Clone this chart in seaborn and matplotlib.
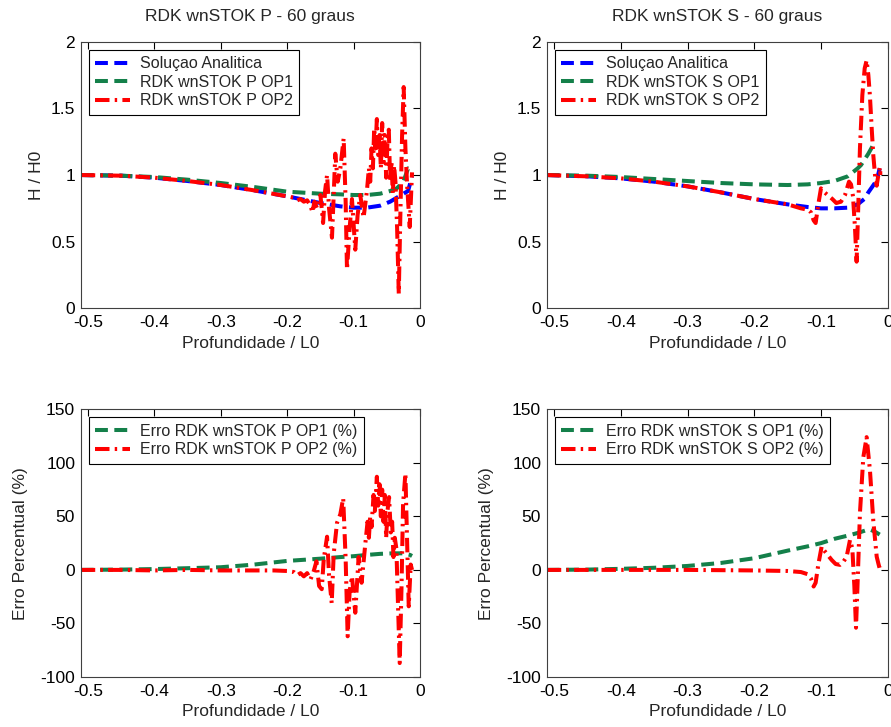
import numpy as np
import pandas as pd
import seaborn as sns
import matplotlib.pyplot as plt

sns.set_style('white')
plt.rcParams['font.family'] = ['Liberation Sans', 'DejaVu Sans']

# ---- dados ----
# P - H/H0
x_p_an = [-0.511, -0.45, -0.4, -0.35, -0.3, -0.25, -0.2, -0.17, -0.15, -0.12, -0.1, -0.08,
          -0.06, -0.045, -0.035, -0.025, -0.018, -0.012]
h_p_an = [1.0, 0.995, 0.98, 0.955, 0.925, 0.885, 0.84, 0.81, 0.79, 0.765, 0.755, 0.755,
          0.77, 0.80, 0.83, 0.86, 0.88, 0.99]

x_p_op1 = [-0.511, -0.45, -0.4, -0.35, -0.3, -0.25, -0.2, -0.15, -0.12, -0.1, -0.08, -0.06,
           -0.045, -0.035, -0.025, -0.018, -0.012]
h_p_op1 = [1.0, 0.995, 0.985, 0.965, 0.94, 0.91, 0.875, 0.86, 0.855, 0.85, 0.85, 0.86,
           0.88, 0.90, 0.95, 1.05, 1.04]

x_p_op2 = [-0.511, -0.45, -0.4, -0.35, -0.3, -0.25, -0.2, -0.19, -0.185, -0.18, -0.175, -0.17,
           -0.165, -0.162, -0.159, -0.155, -0.15, -0.146, -0.143, -0.14, -0.137, -0.1326,
           -0.13, -0.1276, -0.124, -0.12, -0.115, -0.112, -0.11, -0.106, -0.1025, -0.0975,
           -0.094, -0.09, -0.085, -0.08, -0.077, -0.075, -0.073, -0.071, -0.069, -0.067,
           -0.065, -0.063, -0.061, -0.059, -0.057, -0.055, -0.053, -0.051, -0.049, -0.047,
           -0.045, -0.043, -0.041, -0.039, -0.037, -0.0345, -0.032, -0.0296, -0.027,
           -0.0246, -0.022, -0.0195, -0.0155, -0.012]
h_p_op2 = [1.0, 0.995, 0.98, 0.955, 0.925, 0.885, 0.84, 0.83, 0.81, 0.82, 0.80, 0.81,
           0.77, 0.72, 0.80, 0.75, 0.85, 0.64, 0.88, 1.0, 0.75, 0.53,
           0.85, 1.16, 0.95, 1.05, 1.275, 0.8, 0.29, 0.6, 0.82, 0.44,
           0.7, 0.85, 0.68, 0.88, 1.05, 0.95, 1.2, 1.05, 1.35, 1.2,
           1.42, 1.15, 1.3, 1.05, 1.39, 1.1, 1.3, 0.98, 1.25, 1.34,
           0.95, 1.1, 0.86, 1.07, 0.95, 0.6, 0.11, 0.7, 1.3,
           1.66, 1.2, 0.93, 0.61, 1.02]

# P - erro (%)
x_p_e1 = [-0.511, -0.45, -0.4, -0.35, -0.3, -0.25, -0.2, -0.15, -0.12, -0.1, -0.08, -0.06,
          -0.04, -0.025, -0.015, -0.012]
e_p_op1 = [0, 0.3, 0.8, 1.6, 2.5, 5, 8.4, 10.5, 12, 12.8, 14, 15, 15.5, 15.5, 14, 13]

x_p_e2 = [-0.511, -0.45, -0.4, -0.35, -0.3, -0.25, -0.22, -0.2, -0.19, -0.185, -0.18, -0.175,
          -0.17, -0.165, -0.16, -0.156, -0.152, -0.148, -0.145, -0.14, -0.137, -0.133,
          -0.13, -0.125, -0.12, -0.1157, -0.112, -0.109, -0.106, -0.1025, -0.0975,
          -0.0925, -0.088, -0.0823, -0.079, -0.077, -0.075, -0.073, -0.07, -0.068,
          -0.065, -0.063, -0.061, -0.059, -0.057, -0.055, -0.053, -0.051, -0.049,
          -0.0466, -0.044, -0.042, -0.04, -0.038, -0.0356, -0.0306, -0.028, -0.0255,
          -0.022, -0.017, -0.014, -0.012]
e_p_op2 = [0, 0, -0.5, 0, -0.5, -0.5, -0.5, -1, -2, -5, -3, -6,
           -3, -9, -1, 8, -15, -18, 10, 31, -5, -31,
           15, 44, 52, 67, 10, -62, -20, -6, -40,
           12, -12, 25, 45, 30, 50, 40, 70, 55,
           87, 60, 80, 50, 75, 45, 70, 30, 55,
           68, 35, 45, 12, 30, 20, -87, -20, 62,
           90, -34, 5, 0]

# S - H/H0
x_s_an = [-0.511, -0.45, -0.4, -0.35, -0.3, -0.25, -0.2, -0.15, -0.12, -0.1, -0.08, -0.06,
          -0.045, -0.035, -0.029, -0.022, -0.0165, -0.012]
h_s_an = [1.0, 0.99, 0.975, 0.95, 0.915, 0.87, 0.82, 0.78, 0.76, 0.75, 0.75, 0.755,
          0.78, 0.82, 0.87, 0.92, 0.96, 1.05]

x_s_op1 = [-0.511, -0.45, -0.4, -0.35, -0.3, -0.25, -0.2, -0.15, -0.12, -0.1, -0.08, -0.06,
           -0.045, -0.04, -0.029, -0.019]
h_s_op1 = [1.0, 0.995, 0.985, 0.97, 0.955, 0.94, 0.93, 0.925, 0.93, 0.94, 0.955, 0.99,
           1.05, 1.075, 1.16, 1.25]

x_s_op2 = [-0.511, -0.45, -0.4, -0.35, -0.3, -0.25, -0.2, -0.15, -0.13, -0.12, -0.115,
           -0.111, -0.108, -0.104, -0.1, -0.097, -0.09, -0.083, -0.077, -0.07, -0.064,
           -0.058, -0.055, -0.052, -0.049, -0.0466, -0.0445, -0.0416, -0.038, -0.0345,
           -0.0316, -0.029, -0.0266, -0.024, -0.0216, -0.019, -0.0165, -0.014, -0.0115,
           -0.011]
h_s_op2 = [1.0, 0.99, 0.975, 0.95, 0.915, 0.87, 0.82, 0.78, 0.75, 0.74, 0.72,
           0.66, 0.64, 0.78, 0.9, 0.88, 0.85, 0.82, 0.79, 0.80, 0.85,
           0.95, 0.93, 0.84, 0.6, 0.35, 0.7, 1.2, 1.6, 1.8,
           1.86, 1.75, 1.59, 1.35, 1.15, 1.0, 0.92, 1.0, 1.06,
           1.0]

# S - erro (%)
x_s_e1 = [-0.511, -0.45, -0.4, -0.35, -0.3, -0.25, -0.2, -0.15, -0.12, -0.1, -0.08, -0.06,
          -0.045, -0.035, -0.028, -0.02, -0.012]
e_s_op1 = [0, 0.3, 1, 2, 3.7, 6.5, 10.9, 18, 22, 25, 29, 32,
           34.5, 36.5, 38, 36, 33]

x_s_e2 = [-0.511, -0.4, -0.3, -0.2, -0.15, -0.13, -0.12, -0.115, -0.111, -0.108, -0.104,
          -0.099, -0.095, -0.09, -0.084, -0.078, -0.0715, -0.066, -0.0615, -0.0565,
          -0.053, -0.05, -0.0475, -0.045, -0.0416, -0.0366, -0.0316, -0.0266, -0.0216,
          -0.0165, -0.014, -0.0115, -0.011]
e_s_op2 = [0, 0, 0, -0.5, -1, -2, -4, -8, -15.5, -12, 5,
           21.8, 18, 14, 9.3, 5.5, 4.7, 8, 12.4, 28,
           20, -15, -54, -10, 53, 105, 124, 93, 46,
           12.4, 6, 0, 3]

titulos = ['RDK wnSTOK P - 60 graus', 'RDK wnSTOK S - 60 graus']
x_ticks = [-0.5, -0.4, -0.3, -0.2, -0.1, 0]
x_tick_labels = ['-0.5', '-0.4', '-0.3', '-0.2', '-0.1', '0']
h_ticks = [0, 0.5, 1, 1.5, 2]
h_tick_labels = ['0', '0.5', '1', '1.5', '2']
e_ticks = [-100, -50, 0, 50, 100, 150]
e_tick_labels = ['-100', '-50', '0', '50', '100', '150']

AZUL = '#0000ff'
VERDE = '#14804a'
VERMELHO = '#ff0000'
LW = 2.9

fig = plt.figure(figsize=(8.91, 7.27), dpi=100)
axs = {
    (0, 0): fig.add_axes([0.0906, 0.5759, 0.3808, 0.3667]),
    (0, 1): fig.add_axes([0.6136, 0.5759, 0.3827, 0.3667]),
    (1, 0): fig.add_axes([0.0906, 0.0688, 0.3808, 0.3682]),
    (1, 1): fig.add_axes([0.6136, 0.0688, 0.3827, 0.3682]),
}


def linha(ax, x, y, cor, estilo, rotulo):
    df = pd.DataFrame({'x': x, 'y': y})
    kw = dict(dashes=(3.2, 1.6)) if estilo == '--' else dict(dashes=(3.6, 1.3, 0.6, 1.3))
    sns.lineplot(data=df, x='x', y='y', ax=ax, color=cor, lw=LW, label=rotulo,
                 sort=False, estimator=None, **kw)


# graficos H/H0
linha(axs[0, 0], x_p_an, h_p_an, AZUL, '--', 'Soluçao Analitica')
linha(axs[0, 0], x_p_op1, h_p_op1, VERDE, '--', 'RDK wnSTOK P OP1')
linha(axs[0, 0], x_p_op2, h_p_op2, VERMELHO, '-.', 'RDK wnSTOK P OP2')

linha(axs[0, 1], x_s_an, h_s_an, AZUL, '--', 'Soluçao Analitica')
linha(axs[0, 1], x_s_op1, h_s_op1, VERDE, '--', 'RDK wnSTOK S OP1')
linha(axs[0, 1], x_s_op2, h_s_op2, VERMELHO, '-.', 'RDK wnSTOK S OP2')

# graficos de erro
linha(axs[1, 0], x_p_e1, e_p_op1, VERDE, '--', 'Erro RDK wnSTOK P OP1 (%)')
linha(axs[1, 0], x_p_e2, e_p_op2, VERMELHO, '-.', 'Erro RDK wnSTOK P OP2 (%)')

linha(axs[1, 1], x_s_e1, e_s_op1, VERDE, '--', 'Erro RDK wnSTOK S OP1 (%)')
linha(axs[1, 1], x_s_e2, e_s_op2, VERMELHO, '-.', 'Erro RDK wnSTOK S OP2 (%)')

for (i, j), ax in axs.items():
    ax.set_xlim(-0.511, 0)
    ax.set_xticks(x_ticks)
    ax.set_xticklabels(x_tick_labels)
    if i == 0:
        ax.set_ylim(0, 2)
        ax.set_yticks(h_ticks)
        ax.set_yticklabels(h_tick_labels)
        ax.set_ylabel('H / H0', fontsize=12.5, labelpad=5)
        ax.set_title(titulos[j], fontsize=12.5, pad=15)
    else:
        ax.set_ylim(-100, 150)
        ax.set_yticks(e_ticks)
        ax.set_yticklabels(e_tick_labels)
        ax.set_ylabel('Erro Percentual (%)', fontsize=12.5, labelpad=9)
    ax.set_xlabel('Profundidade / L0', fontsize=12.5, labelpad=4)
    ax.tick_params(direction='in', length=5, width=0.8, top=True, right=True,
                   labelsize=12.5, colors='black')
    ax.tick_params(axis='x', pad=5)
    ax.tick_params(axis='y', pad=4)
    for s in ax.spines.values():
        s.set_visible(True)
        s.set_color('#404040')
        s.set_linewidth(0.8)
    leg = ax.legend(loc='upper left', fontsize=11.5, frameon=True, fancybox=False,
                    edgecolor='black', framealpha=1, handlelength=2.2,
                    borderpad=0.4, labelspacing=0.22, handletextpad=0.6,
                    borderaxespad=0.5)
    leg.get_frame().set_linewidth(0.8)

fig.savefig('out.png', dpi=100)
